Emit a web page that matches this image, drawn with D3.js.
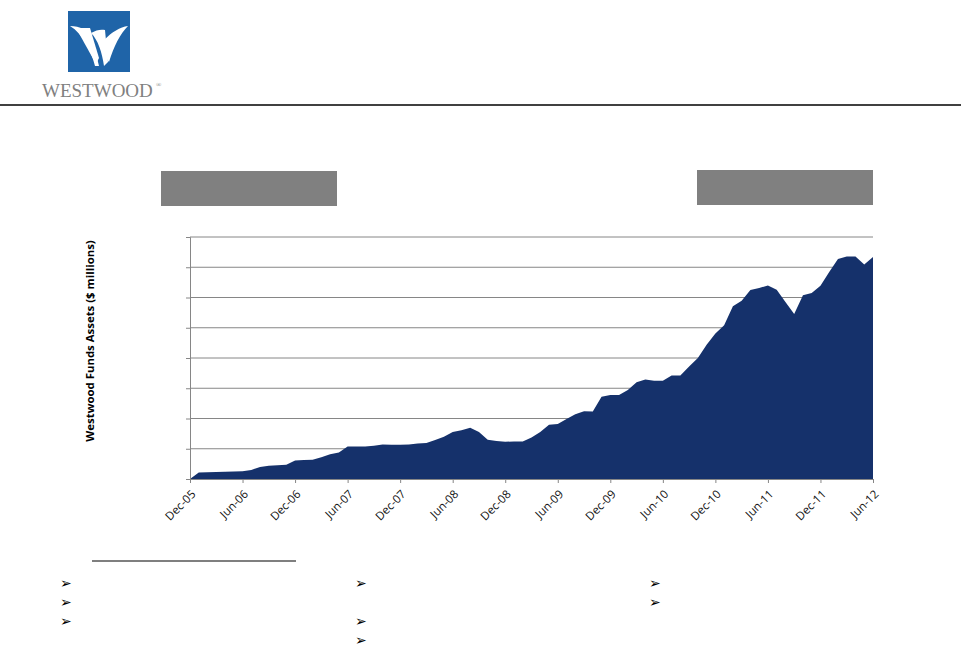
<!DOCTYPE html>
<html>
<head>
<meta charset="utf-8">
<script src="https://cdn.jsdelivr.net/npm/d3@7"></script>
<style>
  body { margin: 0; background: #fff; }
  svg { display: block; }
</style>
</head>
<body>
<div id="chart"></div>
<script>
// month-end fund assets, $ millions, Dec-05 .. Jun-12
const assets = [
  0, 53, 55, 58, 60, 63, 65, 75, 100, 110, 113, 118,
  153, 158, 160, 180, 205, 220, 268, 268, 268, 275, 285, 283,
  283, 285, 293, 298, 323, 350, 388, 403, 423, 388, 325, 315,
  308, 310, 310, 343, 388, 448, 455, 495, 535, 560, 558, 680,
  695, 695, 735, 800, 823, 813, 813, 855, 855, 930, 1000, 1110,
  1203, 1270, 1428, 1473, 1563, 1578, 1600, 1565, 1463, 1363, 1518, 1538,
  1598, 1710, 1818, 1838, 1838, 1773, 1835
];
const tickLabels = ["Dec-05", "Jun-06", "Dec-06", "Jun-07", "Dec-07", "Jun-08", "Dec-08",
  "Jun-09", "Dec-09", "Jun-10", "Dec-10", "Jun-11", "Dec-11", "Jun-12"];
const yTicks = [0, 250, 500, 750, 1000, 1250, 1500, 1750, 2000];

// bullet rows of the footnote columns (text is blank in the source)
const bulletCol1 = ["", "", ""];
const bulletCol2 = ["", null, "", ""];
const bulletCol3 = ["", ""];

const width = 961, height = 647;
const margin = {left: 190, right: 88, top: 237, bottom: 168};

const svg = d3.select("#chart").append("svg")
  .attr("width", width)
  .attr("height", height);

// ---- header: logo and rule ----
const logo = svg.append("g");
logo.append("rect")
  .attr("x", 68).attr("y", 11)
  .attr("width", 62).attr("height", 61)
  .attr("fill", "#1f64a8");
logo.append("path")
  .attr("d", "M70,26 C80,26 88,30 92,38 L99,66 L95,66 C91,50 83,34 70,26 Z")
  .attr("fill", "#fff");
logo.append("path")
  .attr("d", "M76,28 L90,28 L99,58 L96,64 Z")
  .attr("fill", "#fff");
logo.append("path")
  .attr("d", "M91,33 C96,30 101,29 105,30 L108,62 L104,66 C102,52 98,40 91,33 Z")
  .attr("fill", "#fff");
logo.append("path")
  .attr("d", "M104,40 C112,32 120,27 128,26 C120,34 114,46 109,62 L106,58 Z")
  .attr("fill", "#fff");
logo.append("text")
  .attr("x", 42).attr("y", 97)
  .attr("font-family", "Liberation Serif, serif")
  .attr("font-size", 19)
  .attr("fill", "#808080")
  .text("WESTWOOD");
logo.append("text")
  .attr("x", 156).attr("y", 87)
  .attr("font-family", "Liberation Serif, serif")
  .attr("font-size", 7)
  .attr("fill", "#808080")
  .text("®");

svg.append("line")
  .attr("x1", 0).attr("x2", width)
  .attr("y1", 105).attr("y2", 105)
  .attr("stroke", "#000").attr("stroke-width", 1.3);

// gray caption boxes
svg.append("rect").attr("x", 161).attr("y", 171).attr("width", 176).attr("height", 35).attr("fill", "#808080");
svg.append("rect").attr("x", 697).attr("y", 170).attr("width", 176).attr("height", 35).attr("fill", "#808080");

// ---- chart ----
const months = d3.range(assets.length);

const x = d3.scaleLinear()
  .domain([0, assets.length - 1])
  .range([margin.left, width - margin.right]);

const y = d3.scaleLinear()
  .domain([0, 2000])
  .range([height - margin.bottom, margin.top]);

// gridlines
svg.append("g")
  .selectAll("line")
  .data(yTicks.slice(1))
  .join("line")
  .attr("x1", x(0)).attr("x2", x(assets.length - 1))
  .attr("y1", d => y(d)).attr("y2", d => y(d))
  .attr("stroke", "#868686").attr("stroke-width", 1);

const area = d3.area()
  .x((d, i) => x(i))
  .y0(y(0))
  .y1(d => y(d));

svg.append("path")
  .datum(assets)
  .attr("d", area)
  .attr("fill", "#15316b");

// y axis: ticks only, no labels
const yAxis = svg.append("g")
  .attr("transform", `translate(${x(0)},0)`)
  .call(d3.axisLeft(y).tickValues(yTicks).tickSize(4).tickFormat(""));
yAxis.select(".domain").attr("stroke", "#868686");
yAxis.selectAll(".tick line").attr("stroke", "#868686");

// x axis
const xAxis = svg.append("g")
  .attr("transform", `translate(0,${y(0)})`)
  .call(d3.axisBottom(x)
    .tickValues(months.filter(i => i % 6 === 0))
    .tickSize(4)
    .tickFormat((d, i) => tickLabels[i]));
xAxis.select(".domain").attr("stroke", "#868686");
xAxis.selectAll(".tick line").attr("stroke", "#868686");
xAxis.selectAll(".tick text")
  .attr("x", 0).attr("y", 0).attr("dy", "0.35em")
  .attr("transform", "translate(3,13) rotate(-45)")
  .attr("text-anchor", "end")
  .attr("font-family", "Open Sans, sans-serif")
  .attr("font-size", 11.5)
  .attr("fill", "#111");

// y axis title
svg.append("text")
  .attr("transform", "translate(94,341) rotate(-90)")
  .attr("text-anchor", "middle")
  .attr("font-family", "Open Sans, sans-serif")
  .attr("font-weight", "bold")
  .attr("font-size", 11.4)
  .attr("fill", "#000")
  .text("Westwood Funds Assets ($ millions)");

// ---- footnote area ----
svg.append("line")
  .attr("x1", 92).attr("x2", 296)
  .attr("y1", 561).attr("y2", 561)
  .attr("stroke", "#000").attr("stroke-width", 1.2);

function bullets(list, xPos) {
  list.forEach((t, i) => {
    if (t === null) return;
    svg.append("text")
      .attr("x", xPos).attr("y", 588 + i * 19)
      .attr("font-family", "DejaVu Sans, sans-serif")
      .attr("font-size", 14)
      .attr("fill", "#000")
      .text("\u27A2");
  });
}
bullets(bulletCol1, 60);
bullets(bulletCol2, 355);
bullets(bulletCol3, 649);
</script>
</body>
</html>
